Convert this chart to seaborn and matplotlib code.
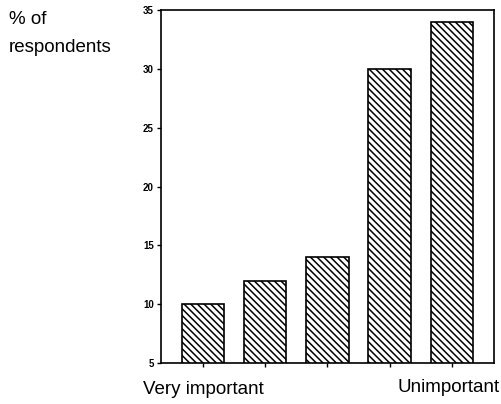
import matplotlib
matplotlib.use("Agg")
import matplotlib.pyplot as plt
import seaborn as sns
import pandas as pd

# Data
categories = ["1", "2", "3", "4", "5"]
percent = [10, 12, 14, 30, 34]
tick_labels = ["Very important", "", "", "", "Unimportant"]
y_ticks = [5, 10, 15, 20, 25, 30, 35]

sns.set_style("white")
plt.rcParams["font.family"] = ["Liberation Sans", "DejaVu Sans"]
plt.rcParams["hatch.linewidth"] = 1.1
plt.rcParams["text.color"] = "black"

data = pd.DataFrame({"category": categories, "percent": percent})

fig = plt.figure(figsize=(5.01, 4.04), dpi=100)
ax = fig.add_axes([0.321, 0.1015, 0.665, 0.8735])

sns.barplot(data=data, x="category", y="percent", color="white",
            edgecolor="black", linewidth=1.2, width=0.68, ax=ax)
for bar in ax.patches:
    bar.set_hatch("\\" * 5)

ax.set_ylim(5, 35)
ax.set_xlim(-0.68, 4.68)
ax.set_yticks(y_ticks)
ax.set_yticklabels([str(t) for t in y_ticks], fontsize=7, fontweight="bold")
ax.set_xticks(range(len(categories)))
ax.set_xticklabels([])
ax.set_xlabel("")
ax.set_ylabel("")

for spine in ax.spines.values():
    spine.set_visible(True)
    spine.set_color("black")
    spine.set_linewidth(1.2)

ax.tick_params(axis="both", direction="out", length=3, width=1, colors="black",
               labelcolor="black", bottom=True, left=True, pad=2)

# end labels under the first and last bars
fig.text(143 / 501, 1 - 390 / 404, tick_labels[0], fontsize=13.5, color="black",
         ha="left", va="center")
fig.text(500 / 501, 1 - 388 / 404, tick_labels[-1], fontsize=13.5, color="black",
         ha="right", va="center")

# y axis title, top left
fig.text(9 / 501, 1 - 19 / 404, "% of", fontsize=13.5, color="black",
         ha="left", va="center")
fig.text(9 / 501, 1 - 48 / 404, "respondents", fontsize=13.5, color="black",
         ha="left", va="center")

fig.savefig("out.png", dpi=100)
